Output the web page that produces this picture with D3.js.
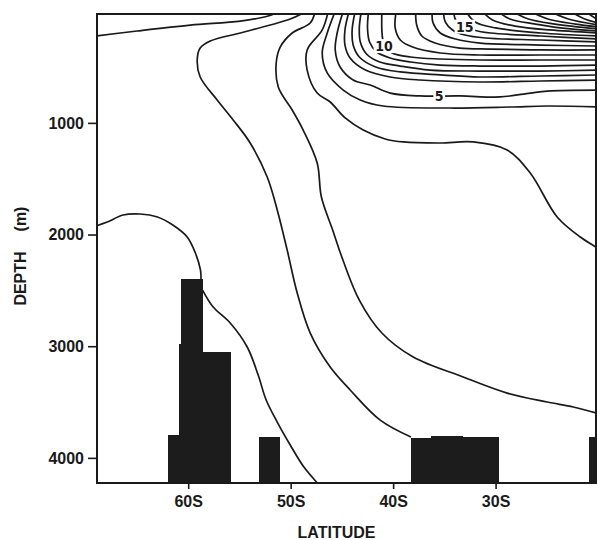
<!DOCTYPE html>
<html><head><meta charset="utf-8">
<script src="https://cdn.jsdelivr.net/npm/d3@7"></script>
<style>body{margin:0;background:#fff}</style>
</head><body>
<svg id="chart" width="597" height="540"></svg>
<script>
// ---- data (latitude in degrees S, depth in m) ----
const latTicks = [60, 50, 40, 30];
const depthTicks = [1000, 2000, 3000, 4000];

const bathymetry = [
  {from: 61.95, to: 60.88, depth: 3795},
  {from: 60.88, to: 60.71, depth: 2980},
  {from: 60.71, to: 58.6, depth: 2400},
  {from: 58.6, to: 55.8, depth: 3050},
  {from: 53.07, to: 51.0, depth: 3813},
  {from: 38.26, to: 36.3, depth: 3818},
  {from: 36.3, to: 33.2, depth: 3805},
  {from: 33.2, to: 29.65, depth: 3812},
  {from: 20.9, to: 19.9, depth: 3812}
];

const isoDeepWest = [[69.2,1930],[67.9,1888],[66.35,1825],[64.7,1816],[63.0,1843],[61.5,1915],[60.1,2022],[59.3,2165],[58.8,2318],[58.75,2400]];
const isoDeepEast = [[58.6,2497],[57.56,2649],[55.9,2792],[54.24,3007],[53.17,3258],[52.39,3482],[51.31,3679],[50.04,3885],[48.78,4073],[47.41,4225],[47.1,4260]];
const isoA = [[69.2,225],[64.98,177],[59.8,124],[54.9,88],[52.2,43],[51.1,0]];
const isoB = [[48.39,0],[50.04,70],[51.99,124],[54.92,195],[57.85,267],[58.83,330],[59.12,437],[58.83,589],[57.17,795],[55.61,974],[53.95,1180],[52.29,1485],[51.31,1780],[50.34,2139],[49.36,2524],[48.09,2882],[46.14,3186],[44.19,3392],[41.26,3662],[38.26,3813]];
const isoC = [[47.6,0],[48.09,106],[49.85,195],[51.02,321],[51.41,464],[51.21,679],[49.85,885],[48.78,1064],[47.41,1359],[47.0,1664],[45.9,1959],[44.9,2228],[43.3,2587],[41.1,2882],[38.04,3097],[33.16,3276],[28.87,3420],[24.96,3500],[22.42,3544],[20.2,3598],[19.9,3605]];
const isoD = [[46.33,0],[46.92,168],[48.39,347],[48.39,527],[47.41,733],[46.14,813],[44.68,956],[42.92,1064],[40.77,1144],[39.0,1171],[35.4,1180],[32.18,1171],[28.87,1243],[26.62,1449],[23.99,1843],[21.74,2022],[20.2,2112],[19.9,2130]];
const iso4 = [[45.65,0],[46.43,195],[46.92,374],[46.43,553],[44.87,706],[43.21,795],[40.97,849],[34.43,867],[28.57,858],[24.96,849],[19.9,858]];
const iso5 = [[44.87,0],[45.46,195],[45.65,347],[45.17,500],[43.9,616],[42.24,661],[40.29,733],[37.36,759],[33.45,759],[29.55,768],[26.62,733],[24.96,715],[19.9,706]];
const iso6 = [[44.3,0],[44.7,168],[44.7,303],[44.2,419],[42.7,527],[40.3,589],[37.4,616],[31.5,634],[25.6,625],[19.9,616]];
const iso7 = [[43.7,0],[44.0,168],[43.9,303],[43.3,410],[41.7,500],[39.3,544],[35.4,571],[31.5,589],[25.6,580],[19.9,571]];
const iso8 = [[43.1,0],[43.3,150],[43.2,276],[42.6,383],[41.3,455],[39.3,491],[36.4,527],[31.5,536],[25.6,536],[19.9,527]];
const iso9 = [[42.4,0],[42.5,150],[42.3,276],[41.6,365],[40.3,419],[38.3,455],[35.4,482],[31.5,491],[25.6,491],[19.9,482]];
const iso10 = [[41.1,0],[41.1,168],[41.0,258],[40.7,321],[40.1,374],[38.3,410],[35.4,428],[31.5,437],[25.6,437],[19.9,437]];
const iso11 = [[39.7,0],[39.8,150],[39.3,258],[38.1,321],[35.4,374],[31.5,392],[25.6,392],[19.9,392]];
const iso12 = [[37.8,0],[37.7,124],[37.2,222],[35.9,285],[33.5,330],[30.5,339],[25.6,347],[19.9,347]];
const iso13 = [[36.2,0],[36.1,106],[35.4,195],[33.9,249],[31.5,285],[25.6,303],[19.9,312]];
const iso14 = [[35.1,0],[34.9,97],[34.2,168],[33.0,213],[31.0,240],[25.6,258],[19.9,276]];
const iso15 = [[34.1,0],[33.9,79],[33.3,133],[32.2,168],[30.5,195],[25.6,222],[19.9,249]];
const iso16 = [[32.9,0],[32.0,97],[30.0,150],[25.6,195],[19.9,222]];
const iso17 = [[31.3,0],[30.3,79],[28.1,133],[24.7,168],[19.9,195]];
const iso18 = [[29.8,0],[28.6,70],[26.1,115],[22.7,159],[19.9,177]];
const iso19 = [[28.4,0],[26.8,70],[24.2,115],[19.9,159]];
const iso20 = [[26.6,0],[24.9,70],[22.2,115],[19.9,141]];
const iso21 = [[24.7,0],[22.9,70],[19.9,124]];
const iso22 = [[22.7,0],[21.3,70],[19.9,106]];
const iso23 = [[21.3,0],[19.9,85]];

const isotherms = [isoDeepWest, isoDeepEast, isoA, isoB, isoC, isoD, iso4, iso5, iso6, iso7, iso8, iso9,
  iso10, iso11, iso12, iso13, iso14, iso15, iso16, iso17, iso18, iso19, iso20, iso21, iso22, iso23];

const contourLabels = [
  {text: "5", lat: 35.5, depth: 760},
  {text: "10", lat: 40.9, depth: 312},
  {text: "15", lat: 33.0, depth: 138}
];

// ---- drawing ----
const svg = d3.select("#chart");
const W = 597, H = 540;
const x = d3.scaleLinear().domain([68.9, 20.2]).range([97, 596]);
const y = d3.scaleLinear().domain([25, 4225]).range([14, 483]);
const ink = "#1a1a1a";

svg.append("rect").attr("width", W).attr("height", H).attr("fill", "#fff");

svg.append("clipPath").attr("id", "plotclip")
  .append("rect").attr("x", x.range()[0]).attr("y", y.range()[0])
  .attr("width", x.range()[1] - x.range()[0]).attr("height", y.range()[1] - y.range()[0]);

const plot = svg.append("g").attr("clip-path", "url(#plotclip)");

const line = d3.line().x(d => x(d[0])).y(d => y(d[1])).curve(d3.curveCatmullRom.alpha(0.5));

plot.selectAll("path.iso").data(isotherms).join("path")
  .attr("class", "iso")
  .attr("d", line)
  .attr("fill", "none")
  .attr("stroke", ink)
  .attr("stroke-width", 1.7)
  .attr("stroke-linejoin", "round");

// contour labels with white knock-out
const lab = plot.selectAll("g.clab").data(contourLabels).join("g").attr("class", "clab")
  .attr("transform", d => `translate(${x(d.lat)},${y(d.depth)})`);
lab.append("text")
  .attr("text-anchor", "middle")
  .attr("dy", "0.36em")
  .attr("font-family", "'Liberation Sans Narrow','DejaVu Sans Condensed',sans-serif")
  .attr("font-size", 14)
  .attr("font-weight", "bold")
  .attr("fill", ink)
  .text(d => d.text)
  .each(function() {
    const b = this.getBBox();
    d3.select(this.parentNode).insert("rect", "text")
      .attr("x", b.x - 1.5).attr("y", b.y + 1).attr("width", b.width + 3).attr("height", b.height - 2)
      .attr("fill", "#fff");
  });

// bathymetry
plot.selectAll("rect.bathy").data(bathymetry).join("rect")
  .attr("class", "bathy")
  .attr("x", d => Math.round(x(d.from)))
  .attr("width", d => Math.round(x(d.to)) - Math.round(x(d.from)))
  .attr("y", d => Math.round(y(d.depth)))
  .attr("height", d => y.range()[1] - Math.round(y(d.depth)) + 2)
  .attr("shape-rendering", "crispEdges")
  .attr("fill", "#1c1c1c");

// frame
svg.append("rect")
  .attr("x", x.range()[0]).attr("y", y.range()[0])
  .attr("width", x.range()[1] - x.range()[0]).attr("height", y.range()[1] - y.range()[0])
  .attr("fill", "none").attr("stroke", ink).attr("stroke-width", 2);

const tickFont = "'Liberation Sans', Arial, sans-serif";

// y axis
const yAxis = svg.append("g").attr("transform", `translate(${x.range()[0]},0)`)
  .call(d3.axisLeft(y).tickValues(depthTicks).tickSize(9).tickPadding(4).tickFormat(d3.format("d")));
yAxis.select(".domain").remove();
yAxis.selectAll("line").attr("stroke", ink).attr("stroke-width", 1.6);
yAxis.selectAll("text").attr("font-family", tickFont).attr("font-size", 16)
  .attr("font-weight", "bold").attr("fill", ink);

// x axis
const xAxis = svg.append("g").attr("transform", `translate(0,${y.range()[1]})`)
  .call(d3.axisBottom(x).tickValues(latTicks).tickSize(6).tickFormat(d => d + "S"));
xAxis.select(".domain").remove();
xAxis.selectAll("line").attr("stroke", ink).attr("stroke-width", 1.6);
xAxis.selectAll("text").attr("font-family", tickFont).attr("font-size", 16)
  .attr("font-weight", "bold").attr("fill", ink).attr("dy", null).attr("y", 24);

// axis titles
svg.append("text")
  .attr("x", (x.range()[0] + x.range()[1]) / 2 - 10).attr("y", 538)
  .attr("text-anchor", "middle")
  .attr("font-family", tickFont).attr("font-size", 16).attr("font-weight", "bold")
  .attr("fill", ink).text("LATITUDE");

svg.append("text")
  .attr("transform", "translate(26,278.5) rotate(-90)")
  .attr("text-anchor", "middle")
  .attr("font-family", tickFont).attr("font-size", 16).attr("font-weight", "bold")
  .attr("fill", ink).text("DEPTH");
svg.append("text")
  .attr("transform", "translate(26,219) rotate(-90)")
  .attr("text-anchor", "middle")
  .attr("font-family", tickFont).attr("font-size", 16).attr("font-weight", "bold")
  .attr("fill", ink).text("(m)");
</script>
</body></html>
